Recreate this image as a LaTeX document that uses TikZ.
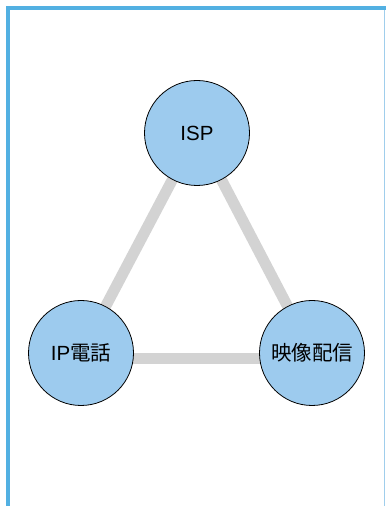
\documentclass[tikz,border=0pt]{standalone}
\usepackage{fontspec}
\setmainfont{Liberation Sans}
\newfontfamily\cjk{Noto Sans CJK JP}
\usepackage{tikz}
\usetikzlibrary{positioning,backgrounds}

\definecolor{framecol}{RGB}{82,176,226}
\definecolor{framelight}{RGB}{160,206,236}
\definecolor{hubfill}{RGB}{157,203,238}
\definecolor{linkcol}{RGB}{211,211,211}

\begin{document}
\begin{tikzpicture}[
    x=1pt, y=1pt,
    hub/.style={circle, draw=black, fill=hubfill, line width=0.8pt, minimum size=105pt, inner sep=0pt, font=\fontsize{20.5}{24}\selectfont},
    link/.style={draw=linkcol, line width=11pt}
]
\useasboundingbox (0,0) rectangle (386,506);
% frame
\draw[framecol, line width=4pt] (8,0) -- (8,498) -- (386,498);
\draw[framelight, line width=1pt] (384.5,0) -- (384.5,496);

\node[hub] (isp) at (197,373) {ISP};
\node[hub] (phone) at (81,153) {IP{\cjk 電話}};
\node[hub] (video) at (312,153) {{\cjk 映像配信}};

\begin{pgfonlayer}{background}
\draw[link] (isp) -- (phone);
\draw[link] (isp) -- (video);
\draw[link] ([yshift=-6pt]phone.center) -- ([yshift=-6pt]video.center);
\end{pgfonlayer}
\end{tikzpicture}
\end{document}
